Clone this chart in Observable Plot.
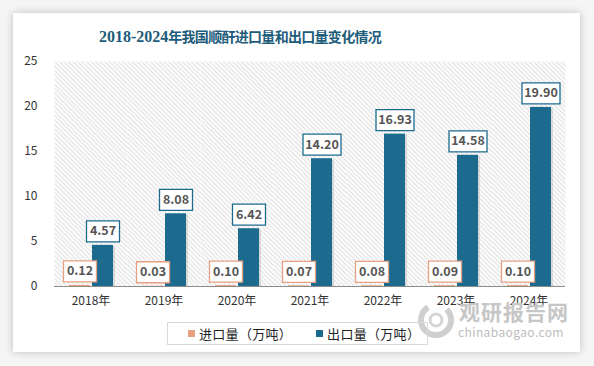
<!DOCTYPE html>
<html><head><meta charset="utf-8">
<script src="https://cdn.jsdelivr.net/npm/d3@7"></script>
<script src="https://cdn.jsdelivr.net/npm/@observablehq/plot@0.6"></script>
<style>
body{margin:0;background:#fff;font-family:"Noto Sans CJK SC","Noto Sans",sans-serif;}
#wrap{position:relative;width:594px;height:366px;overflow:hidden;background:#f5f5f5;}
#card{position:absolute;left:13px;top:13px;width:567px;height:339px;background:#fff;box-shadow:0 0 8px rgba(0,0,0,0.22);}
#title{position:absolute;left:0;top:25px;width:480px;text-align:center;line-height:20px;font-weight:bold;color:#1d5c7a;white-space:nowrap;}
#title .n{font-family:"Liberation Serif","DejaVu Serif",serif;font-size:16px;}
#title .c{font-family:"Noto Sans CJK SC",sans-serif;font-size:14px;letter-spacing:-0.7px;}
#chart{position:absolute;left:0;top:50px;}
#legend{position:absolute;left:167px;top:322px;width:261px;height:23px;border:1px solid #d9d9d9;box-sizing:border-box;font-size:13px;color:#222;display:flex;align-items:center;letter-spacing:0.3px;}
.sw{display:inline-block;width:7px;height:7px;margin-right:4px;}
#wm{position:absolute;left:415px;top:302px;}
#wm .a{font-size:21px;font-weight:bold;letter-spacing:1px;position:absolute;left:44px;top:-6px;white-space:nowrap;color:#c6c6c6;}
#wm .b{font-size:12px;position:absolute;left:43px;top:21px;white-space:nowrap;color:#bdbdbd;letter-spacing:0.4px;}
</style></head>
<body><div id="wrap">
<div id="card"></div>
<div id="title"><span class="n">2018-2024</span><span class="c">年我国顺酐进口量和出口量变化情况</span></div>
<div id="chart"></div>
<div id="wm"><svg width="42" height="42" style="position:absolute;left:0;top:-2px"><circle cx="21" cy="20" r="15" fill="none" stroke="#cfcfcf" stroke-width="6" stroke-dasharray="62 20"/><circle cx="21" cy="20" r="6" fill="none" stroke="#d5d5d5" stroke-width="3"/></svg><span class="a">观研报告网</span><span class="b">chinabaogao.com</span></div>
<div id="legend">
 <span style="margin-left:20px" class="sw" id="sw1"></span><span>进口量（万吨）</span>
 <span style="margin-left:24px" class="sw" id="sw2"></span><span>出口量（万吨）</span>
</div>
</div>
<script>
const years = ["2018年","2019年","2020年","2021年","2022年","2023年","2024年"];
const importVals = [0.12,0.03,0.10,0.07,0.08,0.09,0.10];
const exportVals = [4.57,8.08,6.42,14.20,16.93,14.58,19.90];
const seriesNames = ["进口量（万吨）","出口量（万吨）"];
const colors = ["#e8a082","#1c6b8e"];
const yTicks = [0,5,10,15,20,25];

document.getElementById("sw1").style.background = colors[0];
document.getElementById("sw2").style.background = colors[1];

const data = [];
years.forEach((y,i)=>{
  data.push({year:y, series:seriesNames[0], value:importVals[i]});
  data.push({year:y, series:seriesNames[1], value:exportVals[i]});
});

const boxSymbol = {draw(ctx){ ctx.rect(-16.5,-10.5,33,21); }};
const boxSymbolWide = {draw(ctx){ ctx.rect(-19,-10.5,38,21); }};

const chart = Plot.plot({
  width: 594, height: 266,
  marginLeft: 52, marginRight: 28, marginTop: 11, marginBottom: 30,
  style:{fontFamily:"'Noto Sans CJK SC','Noto Sans',sans-serif", fontSize:"12px", color:"#333", background:"transparent", overflow:"visible"},
  fx:{domain:years, padding:0, label:null, axis:"bottom", tickSize:0, tickPadding:10},
  x:{domain:seriesNames, paddingInner:0.1, paddingOuter:0.6, axis:null},
  y:{domain:[0,25], ticks:yTicks, label:null, tickSize:0, tickPadding:17},
  color:{domain:seriesNames, range:colors},
  marks:[
    Plot.frame({fill:"url(#hatch)", stroke:null}),
    Plot.barY(data,{fx:"year", x:"series", y:"value", filter:d=>d.series===seriesNames[1], dx:2, dy:1, fillOpacity:0.25, fill:"#888"}),
    Plot.barY(data,{fx:"year", x:"series", y:"value", fill:"series"}),
    Plot.ruleY([0],{stroke:"#8c8c8c", strokeWidth:1.2}),
    Plot.dot(data,{fx:"year", x:"series", y:"value", dy:-14, symbol: d=>d.value>=10?boxSymbolWide:boxSymbol, fill:"white", stroke:"series", strokeWidth:1.3}),
    Plot.text(data,{fx:"year", x:"series", y:"value", dy:-14, text:d=>d.value.toFixed(2), fill:"#555", fontWeight:"bold", fontSize:12.5})
  ]
});

const defs = d3.create("svg:defs");
const pat = defs.append("pattern").attr("id","hatch").attr("patternUnits","userSpaceOnUse")
  .attr("width",3.2).attr("height",3.2).attr("patternTransform","rotate(-45)");
pat.append("rect").attr("width",3.2).attr("height",3.2).attr("fill","#fafafa");
pat.append("line").attr("x1",0).attr("y1",0).attr("x2",0).attr("y2",3.2).attr("stroke","#d2d2d2").attr("stroke-width",1.1);
chart.insertBefore(defs.node(), chart.firstChild);
document.getElementById("chart").appendChild(chart);
</script>
</body></html>
